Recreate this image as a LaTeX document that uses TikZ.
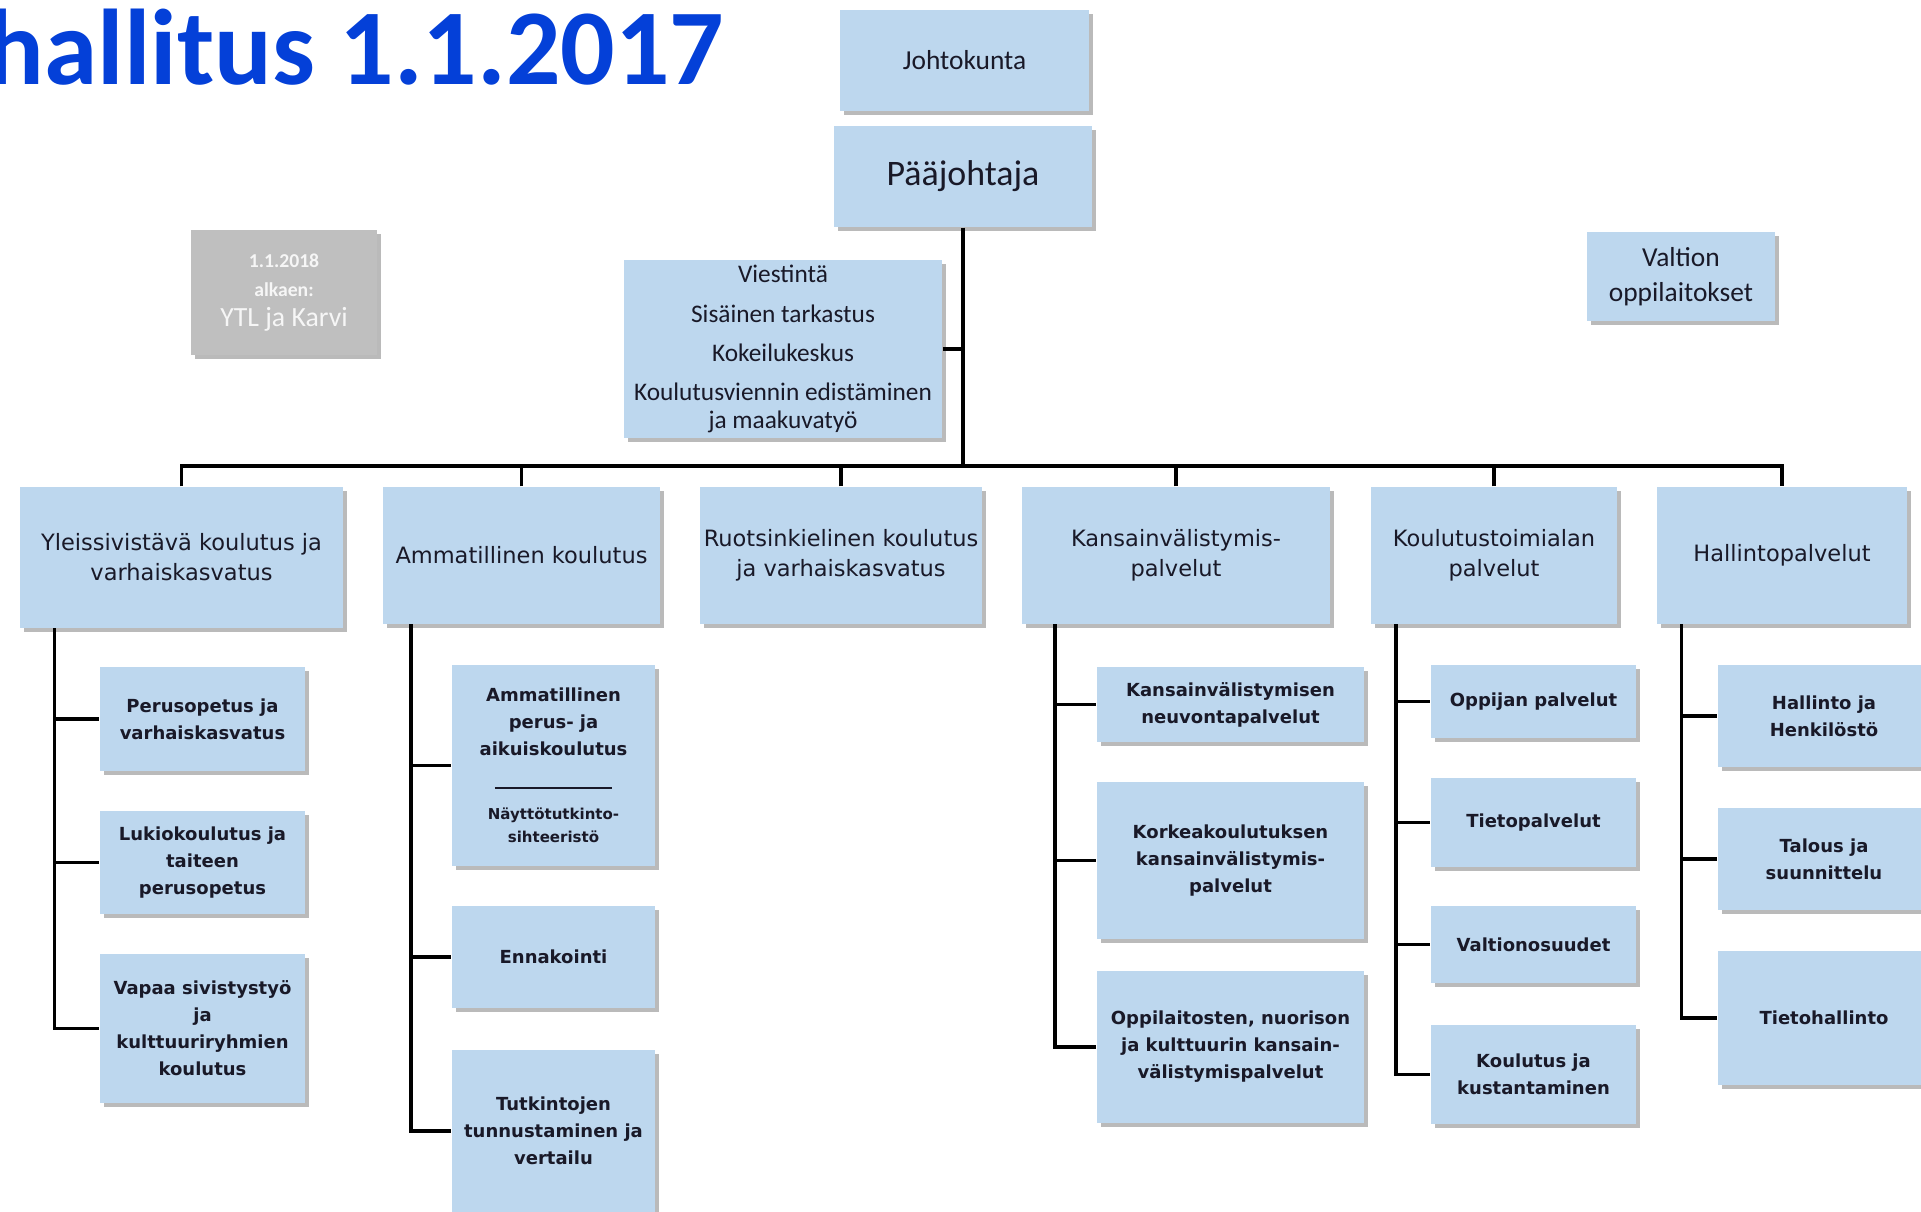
\documentclass[tikz,border=0pt]{standalone}
\usepackage{fontspec}
\setmainfont{DejaVu Sans}
\newfontfamily\califont{Carlito}
\usetikzlibrary{shadows}

\definecolor{boxblue}{RGB}{189,215,238}
\definecolor{boxgrey}{RGB}{191,191,191}
\definecolor{titleblue}{RGB}{4,64,216}
\definecolor{inkdark}{RGB}{25,25,40}

\tikzset{
  box/.style={fill=boxblue, inner sep=0pt, align=center, text=inkdark,
    drop shadow={shadow xshift=0.04cm, shadow yshift=-0.04cm, opacity=0.45, fill=black!60}},
  topbox/.style={box, font=\califont\fontsize{7.8}{10}\selectfont},
  unitbox/.style={box, font=\fontsize{6.4}{8.5}\selectfont},
  subbox/.style={box, font=\bfseries\fontsize{5.12}{7.7}\selectfont},
  conn/.style={draw=black, line width=1.1pt},
}

\begin{document}
\begin{tikzpicture}[x=0.01cm, y=-0.01cm]
  \useasboundingbox (0,0) rectangle (1921,1211);

  % title, cut at the left edge
  \node[font=\califont\bfseries\fontsize{30.6}{36}\selectfont, text=titleblue,
    anchor=base west, inner sep=0pt] (title) at (-14,84) {hallitus 1.1.2017};

  % top of the chart
  \node[topbox, minimum width=2.49cm, minimum height=1.01cm] (joht) at (964.5,60.5) {Johtokunta};
  \node[topbox, minimum width=2.58cm, minimum height=1.01cm,
    font=\califont\fontsize{10.2}{12}\selectfont] (paa) at (963,176.5) {Pääjohtaja};
  \node[topbox, minimum width=3.18cm, minimum height=1.78cm,
    font=\califont\fontsize{7.2}{8}\selectfont] (viest) at (783,349)
    {Viestintä\\[3.1pt]Sisäinen tarkastus\\[3.1pt]Kokeilukeskus\\[3.1pt]Koulutusviennin edistäminen\\ja maakuvatyö};
  \node[topbox, minimum width=1.88cm, minimum height=0.89cm] (valtion) at (1681,276.5) {Valtion\\oppilaitokset};
  \node[box, fill=boxgrey, text=white!93!gray, minimum width=1.86cm, minimum height=1.25cm,
    font=\califont\fontsize{7.9}{8.3}\selectfont] (karvi) at (284,292.5)
    {{\bfseries\fontsize{5.6}{7}\selectfont 1.1.2018}\\{\bfseries\fontsize{5.6}{7}\selectfont alkaen:}\\YTL ja Karvi};

  % units
  \node[unitbox, minimum width=3.23cm, minimum height=1.41cm] (yleis) at (181.5,557.5) {Yleissivistävä koulutus ja\\varhaiskasvatus};
  \node[unitbox, minimum width=2.77cm, minimum height=1.37cm] (amm) at (521.5,555.5) {Ammatillinen koulutus};
  \node[unitbox, minimum width=2.82cm, minimum height=1.37cm] (ruotsi) at (841,555.5) {Ruotsinkielinen koulutus\\ja varhaiskasvatus};
  \node[unitbox, minimum width=3.08cm, minimum height=1.37cm] (kans) at (1176,555.5) {Kansainvälistymis-\\palvelut};
  \node[unitbox, minimum width=2.46cm, minimum height=1.37cm] (kt) at (1494,555.5) {Koulutustoimialan\\palvelut};
  \node[unitbox, minimum width=2.50cm, minimum height=1.37cm] (hall) at (1782,555.5) {Hallintopalvelut};

  % teams
  \node[subbox, minimum width=2.05cm, minimum height=1.04cm] (perus) at (202.5,719) {Perusopetus ja\\varhaiskasvatus};
  \node[subbox, minimum width=2.05cm, minimum height=1.03cm] (lukio) at (202.5,862.5) {Lukiokoulutus ja\\taiteen\\perusopetus};
  \node[subbox, minimum width=2.05cm, minimum height=1.49cm] (vapaa) at (202.5,1028.5) {Vapaa sivistystyö\\ja\\kulttuuriryhmien\\koulutus};

  \node[subbox, text width=2.03cm, minimum height=2.01cm] (amperus) at (553.5,765.5)
    {Ammatillinen\\perus- ja\\aikuiskoulutus\\[1.7pt]\rule{1.17cm}{0.6pt}\par\vspace{2.3pt}%
     {\fontsize{4.27}{6.5}\selectfont Näyttötutkinto-\\sihteeristö\par}};
  \node[subbox, minimum width=2.03cm, minimum height=1.02cm] (ennak) at (553.5,957) {Ennakointi};
  \node[subbox, minimum width=2.03cm, minimum height=1.62cm] (tutk) at (553.5,1131) {Tutkintojen\\tunnustaminen ja\\vertailu};

  \node[subbox, minimum width=2.67cm, minimum height=0.75cm] (neuvo) at (1230.5,704.5) {Kansainvälistymisen\\neuvontapalvelut};
  \node[subbox, minimum width=2.67cm, minimum height=1.57cm] (korkea) at (1230.5,860.5) {Korkeakoulutuksen\\kansainvälistymis-\\palvelut};
  \node[subbox, minimum width=2.67cm, minimum height=1.52cm] (oppil) at (1230.5,1047) {Oppilaitosten, nuorison\\ja kulttuurin kansain-\\välistymispalvelut};

  \node[subbox, minimum width=2.05cm, minimum height=0.73cm] (oppija) at (1533.5,701.5) {Oppijan palvelut};
  \node[subbox, minimum width=2.05cm, minimum height=0.89cm] (tieto) at (1533.5,822.5) {Tietopalvelut};
  \node[subbox, minimum width=2.05cm, minimum height=0.77cm] (vos) at (1533.5,944.5) {Valtionosuudet};
  \node[subbox, minimum width=2.05cm, minimum height=0.99cm] (kust) at (1533.5,1074.5) {Koulutus ja\\kustantaminen};

  \node[subbox, minimum width=2.12cm, minimum height=1.02cm] (henk) at (1824,716) {Hallinto ja\\Henkilöstö};
  \node[subbox, minimum width=2.12cm, minimum height=1.02cm] (talous) at (1824,859) {Talous ja\\suunnittelu};
  \node[subbox, minimum width=2.12cm, minimum height=1.34cm] (tietoh) at (1824,1018) {Tietohallinto};

  % lines
  \coordinate (bus) at (963,465.7);
  \draw[conn] (paa.south) -- (bus);
  \draw[conn] (viest.east) -- (viest.east -| bus);
  \draw[conn] (yleis.north) |- (bus) -| (hall.north);
  \foreach \n in {amm,ruotsi,kans,kt}
    \draw[conn] (\n.north) -- (\n.north |- bus);

  \coordinate (yleisb) at (54.5,628);
  \coordinate (ammb) at (411,624);
  \coordinate (kansb) at (1055,624);
  \coordinate (ktb) at (1396,624);
  \coordinate (hallb) at (1681.5,624);
  \foreach \n in {perus,lukio,vapaa}
    \draw[conn] (yleisb) |- (\n.west);
  \foreach \n in {amperus,ennak,tutk}
    \draw[conn] (ammb) |- (\n.west);
  \foreach \n in {neuvo,korkea,oppil}
    \draw[conn] (kansb) |- (\n.west);
  \foreach \n in {oppija,tieto,vos,kust}
    \draw[conn] (ktb) |- (\n.west);
  \foreach \n in {henk,talous,tietoh}
    \draw[conn] (hallb) |- (\n.west);
\end{tikzpicture}
\end{document}
